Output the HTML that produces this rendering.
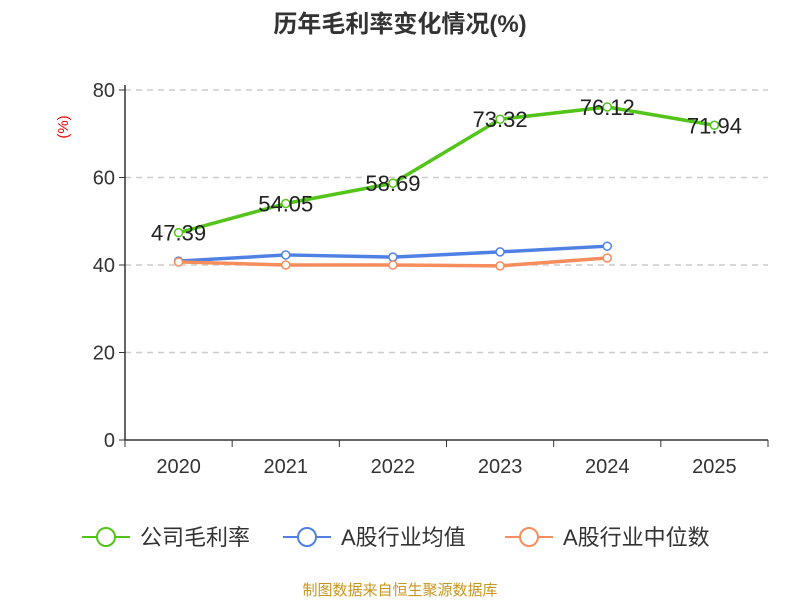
<!DOCTYPE html>
<html><head><meta charset="utf-8"><style>
body{margin:0;background:#fff;font-family:"Liberation Sans","Noto Sans CJK SC",sans-serif}
</style></head><body>
<svg id="chart" width="800" height="600" xmlns="http://www.w3.org/2000/svg" font-family="Liberation Sans, Noto Sans CJK SC, sans-serif">
<text x="400" y="32" text-anchor="middle" font-size="24" font-weight="bold" fill="#333">历年毛利率变化情况(%)</text>
<text x="68" y="127" text-anchor="middle" font-size="15" fill="#e00" transform="rotate(-90 68 127)">(%)</text>
<g id="grid"></g><g id="axes"></g><g id="series"></g>
<g>
<g><line x1="82" y1="537" x2="130" y2="537" stroke="#52c41a" stroke-width="2"/><circle cx="106" cy="537" r="9" fill="#fff" stroke="#52c41a" stroke-width="2"/><text x="140" y="545" font-size="22" fill="#333">公司毛利率</text></g>
<g><line x1="283" y1="537" x2="331" y2="537" stroke="#4f81e5" stroke-width="2"/><circle cx="307" cy="537" r="9" fill="#fff" stroke="#4f81e5" stroke-width="2"/><text x="341" y="545" font-size="22" fill="#333">A股行业均值</text></g>
<g><line x1="505" y1="537" x2="553" y2="537" stroke="#f78c5c" stroke-width="2"/><circle cx="529" cy="537" r="9" fill="#fff" stroke="#f78c5c" stroke-width="2"/><text x="563" y="545" font-size="22" fill="#333">A股行业中位数</text></g>
</g>
<text x="400" y="595" text-anchor="middle" font-size="15" fill="#c8961e">制图数据来自恒生聚源数据库</text>
</svg>
<script>
const categories=["2020","2021","2022","2023","2024","2025"];
const companyValues=[47.39,54.05,58.69,73.32,76.12,71.94];
const avgValues=[40.9,42.3,41.8,43.0,44.3];
const medianValues=[40.7,40.0,40.0,39.8,41.6];
const yTicks=[0,20,40,60,80];
const NS="http://www.w3.org/2000/svg";
const x0=125,x1=768,y0=440,y1=90;
const band=(x1-x0)/categories.length;
const xs=i=>x0+band*(i+0.5);
const ys=v=>y0-(v/80)*(y0-y1);
function mk(tag,attrs,parent){const e=document.createElementNS(NS,tag);for(const k in attrs)e.setAttribute(k,attrs[k]);document.getElementById(parent).appendChild(e);return e;}
yTicks.forEach(t=>{
 if(t>0){const g=mk('line',{x1:x0,x2:x1,y1:ys(t),y2:ys(t),stroke:'#ccc','stroke-dasharray':'6,5','stroke-width':1.5},'grid');
 
 }
 const tk=mk('line',{x1:x0-6,x2:x0,y1:ys(t),y2:ys(t),stroke:'#333'},'axes');
 
 
 const tl=mk('text',{x:x0-10,y:ys(t)+7,'text-anchor':'end','font-size':20,fill:'#333'},'axes');tl.textContent=t;
 
 
});
const ya=mk('line',{x1:x0,x2:x0,y1:y1-5,y2:y0,stroke:'#333','stroke-width':1.5},'axes');


const xa=mk('line',{x1:x0,x2:x1,y1:y0,y2:y0,stroke:'#333','stroke-width':1.5},'axes');


for(let i=0;i<=categories.length;i++){const t=mk('line',{x1:x0+band*i,x2:x0+band*i,y1:y0,y2:y0+7,stroke:'#333'},'axes');
 
 }
categories.forEach((c,i)=>{const t=mk('text',{x:xs(i),y:y0+33,'text-anchor':'middle','font-size':20,fill:'#333'},'axes');t.textContent=c;
 
 });
function series(vals,color,name,labels){
 const p=mk('polyline',{points:vals.map((v,i)=>xs(i)+','+ys(v)).join(' '),fill:'none',stroke:color,'stroke-width':3.5,'stroke-linejoin':'round'},'series');
 
 
 vals.forEach((v,i)=>{const c=mk('circle',{cx:xs(i),cy:ys(v),r:4,fill:'#fff',stroke:color,'stroke-width':1.5},'series');
  
  
  if(labels){const t=mk('text',{x:xs(i),y:ys(v)+8,'text-anchor':'middle','font-size':22,fill:'#222'},'series');t.textContent=v.toFixed(2);
   
   }
 });
}
series(avgValues,'#4f81e5','industry-avg',false);
series(medianValues,'#f78c5c','industry-median',false);
series(companyValues,'#52c41a','company',true);
</script>
</body></html>
